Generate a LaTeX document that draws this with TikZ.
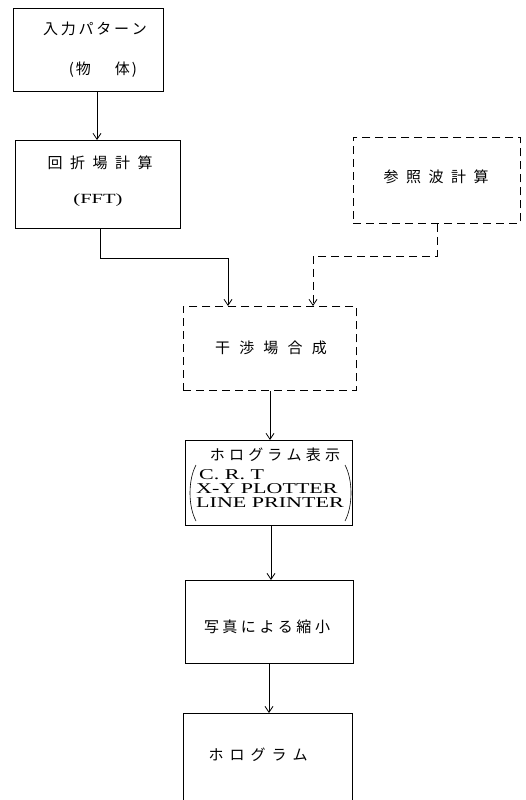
\documentclass[tikz,border=0pt]{standalone}
\usepackage{fontspec}
\setmainfont{Liberation Serif}
\newfontfamily\jp{Noto Sans CJK JP}
\newfontfamily\lat[FakeStretch=1.47]{Liberation Serif}
\usetikzlibrary{arrows.meta}
\newcommand\jsp[1]{\hspace{#1pt}}
\begin{document}
\begin{tikzpicture}[x=1pt,y=-1pt,
  box/.style={draw, line width=0.8pt, inner sep=0, anchor=north west},
  dbox/.style={box, dash pattern=on 8pt off 5pt},
  arr/.style={line width=0.8pt, -{Straight Barb[length=6pt,width=8pt]}},
  darr/.style={arr, dash pattern=on 8pt off 5pt},
  jt/.style={font=\jp\fontsize{15}{17}\selectfont, inner sep=0},
  lt/.style={font=\lat\fontsize{15}{14.3}\selectfont, inner sep=0, align=left, anchor=north west}]
\useasboundingbox (0,0) rectangle (525,800);
\clip (0,0) rectangle (525,800);
% boxes
\node[box, minimum width=150pt, minimum height=83pt] (b1) at (13,8) {};
\node[box, minimum width=165pt, minimum height=88pt] (b2) at (15,140) {};
\node[dbox, minimum width=167pt, minimum height=86pt] (b3) at (353,137) {};
\node[dbox, minimum width=173pt, minimum height=84pt] (b4) at (183,306) {};
\node[box, minimum width=167pt, minimum height=85pt] (b5) at (185,440) {};
\node[box, minimum width=168pt, minimum height=83pt] (b6) at (185,580) {};
\node[box, minimum width=169pt, minimum height=120pt] (b7) at (183,713) {};
% texts
\node[jt] (t1a) at (95,29) {入\jsp{2.8}力\jsp{2.8}パ\jsp{2.8}タ\jsp{2.8}ー\jsp{2.8}ン};
\node[jt] (t1b) at (103,70) {(\jsp{2}物\jsp{24}体\jsp{2})};
\node[jt] (t2a) at (100,163) {回\jsp{7.5}折\jsp{7.5}場\jsp{7.5}計\jsp{7.5}算};
\node[inner sep=0, font=\lat\fontsize{14}{17}\selectfont] (t2b) at (98,200) {(FFT)};
\node[jt] (t3) at (436,177) {参\jsp{7.5}照\jsp{7.5}波\jsp{7.5}計\jsp{7.5}算};
\node[jt] (t4) at (271,348) {干\jsp{9.2}渉\jsp{9.2}場\jsp{9.2}合\jsp{9.2}成};
\node[jt] (t5) at (275,455) {ホ\jsp{4.2}ロ\jsp{4.2}グ\jsp{4.2}ラ\jsp{4.2}ム\jsp{4.2}表\jsp{4.2}示};
\node[lt] (t5a) at (196,469) {\hspace{3pt}C. R. T\\X-Y PLOTTER\\LINE PRINTER};
\draw[line width=0.6pt] (196,465) .. controls (188,480) and (188,506) .. (196,521);
\draw[line width=0.6pt] (345,465) .. controls (353,480) and (353,506) .. (345,521);
\node[jt] (t6) at (267,627) {写\jsp{3.5}真\jsp{3.5}に\jsp{3.5}よ\jsp{3.5}る\jsp{3.5}縮\jsp{3.5}小};
\node[jt] (t7) at (258,755) {ホ\jsp{6}ロ\jsp{6}グ\jsp{6}ラ\jsp{6}ム};
% connectors
\draw[arr] (97,0 |- b1.south) -- (97,0 |- b2.north);
\draw[arr] (100,0 |- b2.south) -- (100,258) -- (228,258) -- (228,0 |- b4.north);
\draw[darr] (437,0 |- b3.south) -- (437,256) -- (313,256) -- (313,0 |- b4.north);
\draw[arr] (270,0 |- b4.south) -- (270,0 |- b5.north);
\draw[arr] (271,0 |- b5.south) -- (271,0 |- b6.north);
\draw[arr] (269,0 |- b6.south) -- (269,0 |- b7.north);
\end{tikzpicture}
\end{document}
